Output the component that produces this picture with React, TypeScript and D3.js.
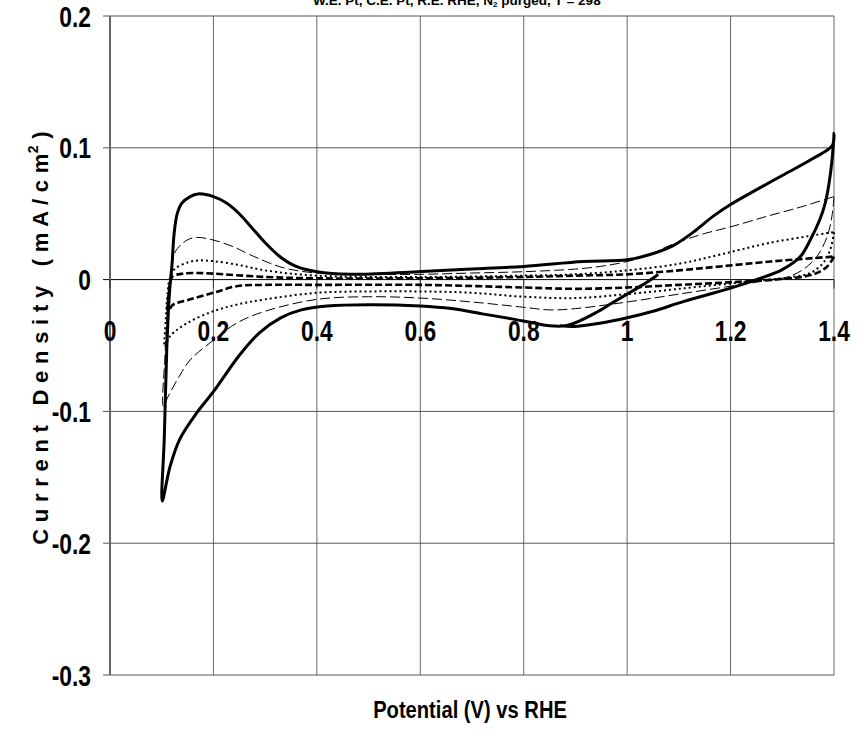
import React from 'react';
import * as d3 from 'd3';

const titleText = 'W.E. Pt, C.E. Pt, R.E. RHE, N';
const titleText2 = ' purged, T = 298';
const xAxisTitle = 'Potential (V) vs RHE';
const yAxisTitle = 'C u r r e n t   D e n s i t y   ( m A / c m';

const xTicks = [0, 0.2, 0.4, 0.6, 0.8, 1, 1.2, 1.4];
const xTickLabels = ['0', '0.2', '0.4', '0.6', '0.8', '1', '1.2', '1.4'];
const yTicks = [0.2, 0.1, 0, -0.1, -0.2, -0.3];
const yTickLabels = ['0.2', '0.1', '0', '-0.1', '-0.2', '-0.3'];

// [potential V, current density mA/cm2]
const cvSolid: [number, number][] = [
  [1.06, 0.004], [1.05, 0.001], [1.03, -0.004], [1.0, -0.011], [0.97, -0.018], [0.94, -0.025],
  [0.91, -0.031], [0.88, -0.035], [0.85, -0.035], [0.82, -0.033], [0.78, -0.030], [0.72, -0.026],
  [0.66, -0.022], [0.6, -0.020], [0.5, -0.019], [0.42, -0.020], [0.37, -0.023], [0.33, -0.029],
  [0.29, -0.040], [0.251, -0.057], [0.2, -0.085], [0.168, -0.101], [0.135, -0.121], [0.116, -0.142],
  [0.101, -0.168], [0.105, -0.12], [0.11, -0.05], [0.115, -0.01], [0.12, 0.012], [0.124, 0.035],
  [0.13, 0.05], [0.139, 0.058], [0.155, 0.063], [0.17, 0.065], [0.2, 0.063], [0.226, 0.058],
  [0.25, 0.050], [0.275, 0.039], [0.3, 0.028], [0.33, 0.017], [0.36, 0.010], [0.4, 0.006],
  [0.464, 0.004], [0.594, 0.006], [0.7, 0.008], [0.8, 0.010], [0.915, 0.0137], [1.0, 0.015],
  [1.044, 0.019], [1.09, 0.026], [1.128, 0.036], [1.166, 0.048], [1.2, 0.057], [1.24, 0.066],
  [1.3, 0.079], [1.36, 0.092], [1.397, 0.102], [1.4, 0.111], [1.396, 0.09], [1.39, 0.072],
  [1.383, 0.058], [1.373, 0.046], [1.354, 0.030], [1.335, 0.0175], [1.3, 0.0076], [1.25, 0.0],
  [1.2, -0.0065], [1.11, -0.0165], [1.05, -0.024], [1.0, -0.029], [0.95, -0.033], [0.9, -0.0355],
  [0.87, -0.035],
];

const cvLongDash: [number, number][] = [
  [1.4, 0.063], [1.396, 0.048], [1.387, 0.033], [1.367, 0.0175], [1.34, 0.0076], [1.31, 0.002],
  [1.257, -0.0015], [1.2, -0.005], [1.1, -0.011], [1.0, -0.017], [0.9, -0.022], [0.85, -0.023],
  [0.8, -0.021], [0.7, -0.017], [0.6, -0.014], [0.5, -0.013], [0.4, -0.015], [0.3, -0.024],
  [0.245, -0.033], [0.2, -0.046], [0.155, -0.061], [0.13, -0.076], [0.112, -0.089], [0.103, -0.096],
  [0.106, -0.06], [0.11, -0.03], [0.115, -0.005], [0.12, 0.01], [0.126, 0.021], [0.149, 0.030],
  [0.168, 0.032], [0.2, 0.030], [0.238, 0.025], [0.27, 0.019], [0.335, 0.009], [0.4, 0.005],
  [0.5, 0.004], [0.6, 0.004], [0.7, 0.005], [0.8, 0.006], [0.9, 0.008], [0.948, 0.010],
  [1.0, 0.0137], [1.044, 0.019], [1.077, 0.025], [1.11, 0.030], [1.15, 0.035], [1.2, 0.040],
  [1.27, 0.048], [1.335, 0.055], [1.4, 0.063],
];

const cvDotted: [number, number][] = [
  [1.4, 0.036], [1.393, 0.023], [1.38, 0.013], [1.354, 0.005], [1.31, 0.0015], [1.25, -0.001],
  [1.2, -0.003], [1.1, -0.007], [1.0, -0.011], [0.9, -0.014], [0.8, -0.013], [0.7, -0.010],
  [0.6, -0.009], [0.5, -0.009], [0.4, -0.010], [0.3, -0.015], [0.245, -0.019], [0.2, -0.024],
  [0.149, -0.033], [0.116, -0.043], [0.106, -0.051], [0.108, -0.03], [0.111, -0.012], [0.115, 0.0],
  [0.125, 0.008], [0.15, 0.013], [0.17, 0.0145], [0.2, 0.014], [0.25, 0.011], [0.3, 0.007],
  [0.4, 0.003], [0.6, 0.002], [0.8, 0.003], [0.9, 0.004], [1.0, 0.007], [1.1, 0.012],
  [1.18, 0.019], [1.277, 0.028], [1.4, 0.036],
];

const cvHeavyDash: [number, number][] = [
  [1.4, 0.0175], [1.387, 0.010], [1.36, 0.004], [1.3, 0.0005], [1.2, -0.002], [1.1, -0.004],
  [1.0, -0.006], [0.9, -0.007], [0.8, -0.006], [0.6, -0.004], [0.4, -0.004], [0.3, -0.004],
  [0.245, -0.005], [0.2, -0.010], [0.155, -0.015], [0.122, -0.019], [0.112, -0.024],
  [0.113, -0.012], [0.116, -0.003], [0.12, 0.002], [0.14, 0.0045], [0.17, 0.005], [0.2, 0.0045],
  [0.3, 0.002], [0.4, 0.001], [0.6, 0.001], [0.8, 0.002], [0.9, 0.003], [1.0, 0.004],
  [1.1, 0.007], [1.18, 0.010], [1.277, 0.0137], [1.4, 0.0175],
];

const seriesData = [cvSolid, cvLongDash, cvDotted, cvHeavyDash];
const seriesStyles = [
  { width: 3, dash: 'none' },
  { width: 1, dash: '10,4' },
  { width: 2, dash: '2,3' },
  { width: 2.6, dash: '7,3' },
];

const W = 861;
const H = 750;
const sans = "'Liberation Sans', Arial, sans-serif";

function NarrowText(props: { x: number; y: number; size: number; sx: number; anchor?: string; children: React.ReactNode }) {
  const { x, y, size, sx, anchor, children } = props;
  return (
    <g transform={`translate(${x},${y}) scale(${sx},1)`}>
      <text x={0} y={0} textAnchor={anchor || 'start'} fontFamily={sans} fontWeight="bold" fontSize={size} fill="#000">
        {children}
      </text>
    </g>
  );
}

export default function App() {
  const x = d3.scaleLinear().domain([0, 1.4]).range([110, 834]);
  const y = d3.scaleLinear().domain([-0.3, 0.2]).range([675, 16]);
  const line = d3
    .line<[number, number]>()
    .x((d) => x(d[0]))
    .y((d) => y(d[1]))
    .curve(d3.curveCatmullRom.alpha(0.5));

  const x0 = x(0);
  const x1 = x(1.4);
  const yZero = y(0);

  return (
    <div style={{ position: 'absolute', left: 0, top: 0 }}>
      <svg width={W} height={H} style={{ display: 'block', background: '#fff' }}>
        <text x={313} y={5} fontFamily={sans} fontWeight="bold" fontSize={13.5} fill="#000">
          {titleText}
          <tspan fontSize={8} dy={2}>2</tspan>
          <tspan dy={-2}>{titleText2}</tspan>
        </text>

        {xTicks.slice(1).map((t) => (
          <line key={'vx' + t} x1={x(t)} x2={x(t)} y1={y(0.2)} y2={y(-0.3)} stroke="#6a6a6a" strokeWidth={1} />
        ))}
        {yTicks.map((t) => (
          <line key={'hy' + t} x1={x0 - 7} x2={x1} y1={y(t)} y2={y(t)} stroke={t === 0 ? '#000' : '#555'} strokeWidth={1} />
        ))}
        <line x1={x0} x2={x0} y1={y(0.2)} y2={y(-0.3)} stroke="#666" strokeWidth={2} />
        {xTicks.map((t) => (
          <line key={'xt' + t} x1={x(t)} x2={x(t)} y1={yZero} y2={yZero + 9} stroke={t === 0 ? '#444' : '#333'} strokeWidth={t === 0 ? 2 : 1} />
        ))}

        {seriesData.map((s, i) => (
          <path
            key={'s' + i}
            d={line(s) || ''}
            fill="none"
            stroke="#000"
            strokeWidth={seriesStyles[i].width}
            strokeDasharray={seriesStyles[i].dash}
            strokeLinejoin="round"
          />
        ))}

        {xTicks.map((t, i) => (
          <NarrowText key={'xl' + t} x={x(t)} y={341} size={30} sx={0.76} anchor="middle">
            {xTickLabels[i]}
          </NarrowText>
        ))}
        {yTicks.map((t, i) => (
          <NarrowText key={'yl' + t} x={91} y={y(t) + 10.5} size={30} sx={0.76} anchor="end">
            {yTickLabels[i]}
          </NarrowText>
        ))}

        <NarrowText x={470} y={718} size={24} sx={0.84} anchor="middle">
          {xAxisTitle}
        </NarrowText>
        <g transform={`translate(48, 338) rotate(-90)`}>
          <text
            x={0}
            y={0}
            textAnchor="middle"
            fontFamily={sans}
            fontWeight="bold"
            fontSize={22}
            letterSpacing={0.3}
            fill="#000"
            style={{ whiteSpace: 'pre' }}
          >
            {yAxisTitle}
            <tspan fontSize={14} dy={-10}>2</tspan>
            <tspan dy={10}>{' )'}</tspan>
          </text>
        </g>
      </svg>
    </div>
  );
}
